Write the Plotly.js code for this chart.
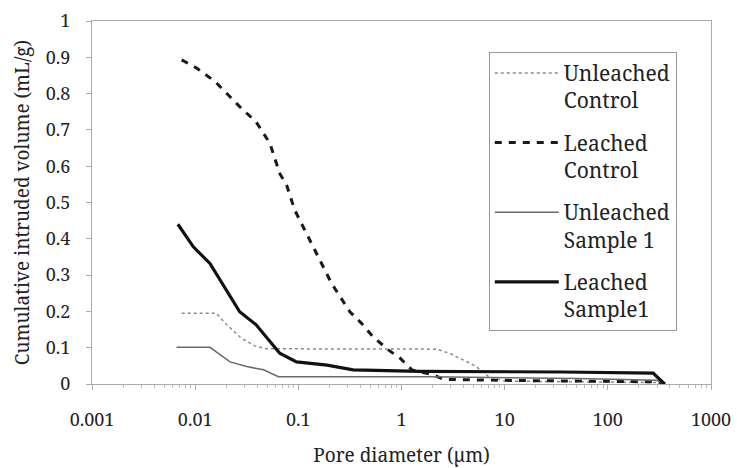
<!DOCTYPE html>
<html>
<head>
<meta charset="utf-8">
<script src="https://cdn.plot.ly/plotly-3.0.1.min.js"></script>
<style>html,body{margin:0;padding:0;background:#fff;}#chart{width:737px;height:468px;}</style>
</head>
<body>
<div id="chart"></div>
<script>
// Unleached Control
const ucX = [0.0074, 0.016, 0.0195, 0.028, 0.038, 0.049, 2.2, 2.95, 3.4, 4.3, 5.3, 7, 10, 100, 300, 360];
const ucY = [0.195, 0.195, 0.168, 0.126, 0.105, 0.097, 0.096, 0.084, 0.075, 0.062, 0.048, 0.02, 0.008, 0.005, 0.004, 0.0];
// Leached Control
const lcX = [0.0074, 0.0104, 0.0156, 0.027, 0.039, 0.053, 0.066, 0.077, 0.092, 0.116, 0.162, 0.21, 0.316, 0.41, 0.53, 0.745, 0.97, 1.26, 2.03, 2.54, 10, 100, 300, 360];
const lcY = [0.893, 0.870, 0.833, 0.764, 0.722, 0.663, 0.580, 0.548, 0.480, 0.424, 0.342, 0.277, 0.199, 0.167, 0.130, 0.094, 0.071, 0.039, 0.025, 0.013, 0.010, 0.008, 0.006, 0.0];
// Unleached Sample 1
const usX = [0.0066, 0.0139, 0.0218, 0.0316, 0.046, 0.064, 2, 50, 300, 350];
const usY = [0.101, 0.101, 0.061, 0.048, 0.039, 0.020, 0.020, 0.015, 0.010, 0.0];
// Leached Sample 1
const lsX = [0.0068, 0.0096, 0.0139, 0.0202, 0.027, 0.039, 0.049, 0.066, 0.096, 0.19, 0.34, 1.0, 1.5, 37, 275, 355];
const lsY = [0.440, 0.378, 0.332, 0.259, 0.199, 0.163, 0.130, 0.085, 0.061, 0.052, 0.039, 0.037, 0.035, 0.033, 0.030, 0.0];

const seriesNames = ["Unleached<br>Control", "Leached<br>Control", "Unleached<br>Sample 1", "Leached<br>Sample1"];
const xTickVals = [0.001, 0.01, 0.1, 1, 10, 100, 1000];
const xTickText = ["0.001", "0.01", "0.1", "1", "10", "100", "1000"];
const yTickVals = [0, 0.1, 0.2, 0.3, 0.4, 0.5, 0.6, 0.7, 0.8, 0.9, 1];
const yTickText = ["0", "0.1", "0.2", "0.3", "0.4", "0.5", "0.6", "0.7", "0.8", "0.9", "1"];

const font = "Noto Serif";

const traces = [
  {x: ucX, y: ucY, name: seriesNames[0], legendgroup: "a", mode: "lines", line: {color: "#8a8a8a", width: 1.5, dash: "dot"}},
  {x: lcX, y: lcY, name: seriesNames[1], legendgroup: "b", mode: "lines", line: {color: "#1a1a1a", width: 3, dash: "7px,7px"}},
  {x: usX, y: usY, name: seriesNames[2], legendgroup: "c", mode: "lines", line: {color: "#6a6a6a", width: 1.5}},
  {x: lsX, y: lsY, name: seriesNames[3], legendgroup: "d", mode: "lines", line: {color: "#111", width: 3.2}}
];

const layout = {
  width: 737, height: 468,
  margin: {l: 92, r: 26, t: 21, b: 84},
  paper_bgcolor: "#fff", plot_bgcolor: "#fff",
  font: {family: font, color: "#222", size: 18},
  showlegend: true,
  legend: {
    x: 0.641, y: 0.915, xanchor: "left", yanchor: "top",
    bgcolor: "#fff", bordercolor: "#999", borderwidth: 1,
    font: {family: font, size: 21, color: "#222"},
    valign: "top", itemwidth: 64, tracegroupgap: 12
  },
  xaxis: {
    type: "log", range: [-3, 3],
    tickmode: "array", tickvals: xTickVals, ticktext: xTickText,
    showline: true, linecolor: "#aaa", linewidth: 1, mirror: true,
    ticks: "outside", ticklen: 5, tickcolor: "#aaa",
    minor: {dtick: "D1", ticks: "outside", ticklen: 3, tickcolor: "#bbb", showgrid: false},
    showgrid: false, zeroline: false,
    tickfont: {family: font, size: 18, color: "#222"},
    ticklabelstandoff: 14,
    title: {text: "Pore diameter (µm)", font: {family: font, size: 19, color: "#222"}, standoff: 20},
    automargin: false
  },
  yaxis: {
    range: [0, 1],
    tickmode: "array", tickvals: yTickVals, ticktext: yTickText,
    showline: true, linecolor: "#aaa", linewidth: 1, mirror: true,
    ticks: "outside", ticklen: 5, tickcolor: "#aaa",
    showgrid: false, zeroline: false,
    tickfont: {family: font, size: 18, color: "#222"},
    ticklabelstandoff: 12,
    title: {text: "Cumulative intruded volume (mL/g)", font: {family: font, size: 19, color: "#222"}, standoff: 11},
    automargin: false
  }
};

Plotly.newPlot("chart", traces, layout, {displayModeBar: false, staticPlot: true});
</script>
</body>
</html>
